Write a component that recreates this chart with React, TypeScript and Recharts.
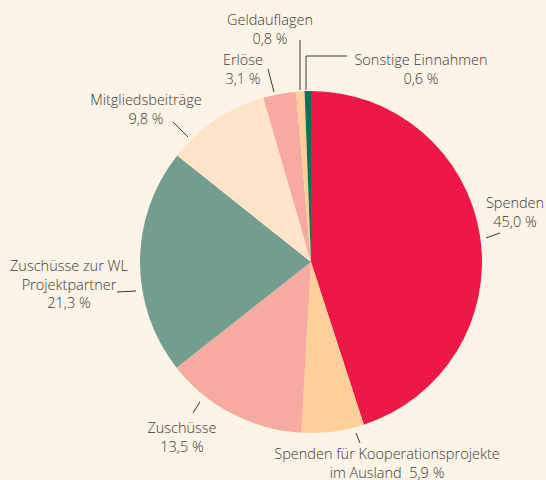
import React from "react";
import { PieChart, Pie, Cell } from "recharts";

const categories = [
  "Spenden",
  "Spenden für Kooperationsprojekte im Ausland",
  "Zuschüsse",
  "Zuschüsse zur WL Projektpartner",
  "Mitgliedsbeiträge",
  "Erlöse",
  "Geldauflagen",
  "Sonstige Einnahmen",
];
const values = [45.0, 5.9, 13.5, 21.3, 9.8, 3.1, 0.8, 0.6];
const valueLabels = ["45,0 %", "5,9 %", "13,5 %", "21,3 %", "9,8 %", "3,1 %", "0,8 %", "0,6 %"];
const labelLines = [
  ["Spenden", "45,0 %"],
  ["Spenden für Kooperationsprojekte", "im Ausland\u00a0 5,9 %"],
  ["Zuschüsse", "13,5 %"],
  ["Zuschüsse zur WL", "Projektpartner", "21,3 %"],
  ["Mitgliedsbeiträge", "9,8 %"],
  ["Erlöse", "3,1 %"],
  ["Geldauflagen", "0,8 %"],
  ["Sonstige Einnahmen", "0,6 %"],
];

const colors = ["#ee1846", "#fdd09b", "#f7aaa0", "#739e8f", "#fde3c8", "#f7aaa0", "#fdd09b", "#0b7257"];

// label layout, offsets from the pie centre: text centre x, first baseline y, leader polyline
const layout = [
  { x: 204, y: -54, line: [[175, -24], [189, -29]] },
  { x: 76, y: 197, line: [[45, 171], [49, 181]] },
  { x: -129, y: 171, line: [[-118, 151], [-111, 140]] },
  { x: -242, y: 9, line: [[-194, 30], [-175, 29]] },
  { x: -165, y: -157, line: [[-138, -140], [-123, -125]] },
  { x: -68, y: -197, line: [[-43, -193], [-37, -170]] },
  { x: -41, y: -237, line: [[-11, -222], [-11, -172]] },
  { x: 110, y: -197, line: [[-5, -172], [-5, -206], [36, -206]] },
];

const data = categories.map((c, i) => ({ name: c, value: values[i], label: valueLabels[i] }));

const renderLabel = (props: any) => {
  const { cx, cy, index } = props;
  const l = layout[index];
  const pts = l.line.map((p) => `${cx + p[0]},${cy + p[1]}`).join(" ");
  return (
    <g key={"lbl" + index}>
      <polyline points={pts} fill="none" stroke="#3a3a3a" strokeWidth={1} />
      <text
        x={cx + l.x}
        y={cy + l.y}
        textAnchor="middle"
        fill="#3a3a3a"
        fontSize={14.5}
        fontWeight={300}
        fontFamily="'Open Sans', sans-serif"
      >
        {labelLines[index].map((t, j) => (
          <tspan key={j} x={cx + l.x} dy={j === 0 ? 0 : 18.5}>
            {t}
          </tspan>
        ))}
      </text>
    </g>
  );
};

const App = () => {
  return (
    <div style={{ position: "absolute", left: 0, top: 0, width: 546, height: 480, background: "#fdf3e6" }}>
      <PieChart width={546} height={480} margin={{ top: 0, right: 0, bottom: 0, left: 0 }}>
        <Pie
          data={data}
          dataKey="value"
          nameKey="name"
          cx={311}
          cy={262}
          outerRadius={171}
          startAngle={90}
          endAngle={-270}
          stroke="none"
          label={renderLabel}
          labelLine={false}
          isAnimationActive={false}
        >
          {data.map((d, i) => (
            <Cell key={d.name} fill={colors[i]} />
          ))}
        </Pie>
      </PieChart>
    </div>
  );
};

export default App;
